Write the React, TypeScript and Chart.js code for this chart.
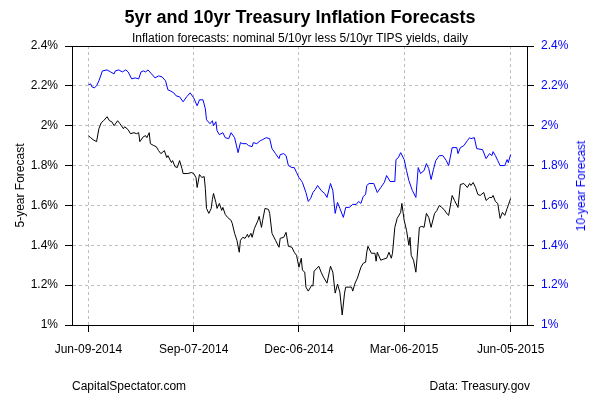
import React, { useEffect, useRef } from "react";
import { Chart, registerables } from "chart.js";

Chart.register(...registerables);

// Day offsets from Jun-09-2014
const fiveYrDays = [0, 2, 4, 7, 9, 11, 13, 16, 18, 20, 22, 25, 27, 30, 31, 34, 36, 39, 41, 43, 44, 47, 49, 50, 52, 53, 56, 58, 60, 62, 65, 67, 68, 71, 72, 74, 76, 78, 80, 81, 85, 88, 90, 92, 93, 95, 97, 99, 100, 101, 103, 105, 106, 107, 109, 110, 112, 114, 115, 117, 119, 122, 123, 125, 127, 129, 130, 132, 134, 136, 137, 139, 140, 142, 145, 146, 148, 149, 151, 154, 155, 157, 160, 163, 164, 167, 169, 171, 174, 176, 178, 180, 182, 183, 185, 186, 188, 191, 192, 193, 197, 199, 201, 204, 207, 209, 211, 213, 215, 217, 219, 220, 225, 226, 228, 230, 233, 235, 237, 238, 239, 242, 245, 246, 247, 250, 252, 255, 257, 259, 260, 262, 264, 267, 268, 270, 272, 274, 275, 276, 278, 280, 281, 283, 285, 287, 289, 291, 293, 296, 298, 300, 302, 304, 307, 308, 311, 313, 316, 318, 321, 324, 326, 327, 329, 331, 333, 335, 338, 340, 343, 345, 346, 348, 350, 352, 354, 356, 358, 359, 361];
const fiveYrValues = [1.95, 1.94, 1.93, 1.92, 1.985, 2.015, 2.025, 2.045, 2.025, 2.02, 2.0, 2.025, 2.01, 1.985, 1.995, 1.98, 1.96, 1.965, 1.96, 1.965, 1.92, 1.945, 1.95, 1.94, 1.965, 1.91, 1.9, 1.895, 1.875, 1.86, 1.875, 1.84, 1.85, 1.815, 1.825, 1.795, 1.79, 1.825, 1.785, 1.76, 1.76, 1.765, 1.76, 1.74, 1.69, 1.755, 1.74, 1.745, 1.685, 1.585, 1.56, 1.585, 1.63, 1.66, 1.615, 1.585, 1.61, 1.575, 1.59, 1.555, 1.54, 1.525, 1.51, 1.46, 1.425, 1.365, 1.425, 1.44, 1.435, 1.455, 1.44, 1.46, 1.44, 1.485, 1.525, 1.545, 1.49, 1.525, 1.585, 1.58, 1.56, 1.46, 1.425, 1.39, 1.435, 1.44, 1.465, 1.395, 1.39, 1.365, 1.35, 1.29, 1.335, 1.275, 1.265, 1.19, 1.17, 1.2, 1.195, 1.27, 1.295, 1.265, 1.24, 1.21, 1.295, 1.265, 1.16, 1.205, 1.165, 1.05, 1.16, 1.19, 1.19, 1.17, 1.21, 1.235, 1.29, 1.31, 1.315, 1.365, 1.395, 1.36, 1.36, 1.32, 1.365, 1.325, 1.33, 1.335, 1.365, 1.335, 1.36, 1.49, 1.535, 1.565, 1.61, 1.525, 1.475, 1.4, 1.44, 1.35, 1.325, 1.265, 1.335, 1.49, 1.495, 1.49, 1.56, 1.54, 1.49, 1.56, 1.575, 1.6, 1.59, 1.58, 1.555, 1.55, 1.65, 1.625, 1.59, 1.705, 1.71, 1.69, 1.71, 1.7, 1.715, 1.69, 1.655, 1.65, 1.665, 1.625, 1.64, 1.64, 1.65, 1.62, 1.61, 1.535, 1.565, 1.55, 1.585, 1.6, 1.635];

const tenYrDays = [0, 2, 3, 5, 7, 9, 12, 16, 19, 22, 23, 26, 29, 32, 34, 37, 40, 43, 45, 47, 49, 51, 54, 57, 60, 63, 66, 68, 70, 73, 75, 78, 81, 84, 87, 90, 93, 95, 98, 100, 101, 104, 106, 107, 109, 110, 112, 115, 117, 120, 122, 125, 128, 130, 132, 135, 137, 140, 141, 144, 147, 149, 152, 155, 157, 160, 163, 164, 167, 169, 171, 174, 176, 178, 180, 182, 183, 186, 188, 190, 192, 194, 196, 199, 202, 204, 207, 209, 211, 213, 215, 218, 220, 223, 226, 229, 231, 233, 235, 237, 238, 240, 244, 247, 250, 253, 255, 258, 262, 263, 265, 267, 270, 272, 274, 277, 280, 282, 284, 287, 289, 291, 293, 295, 297, 300, 303, 306, 308, 311, 315, 316, 318, 321, 324, 326, 327, 330, 332, 337, 340, 343, 345, 346, 348, 350, 352, 356, 358, 359, 361];
const tenYrValues = [2.205, 2.21, 2.195, 2.19, 2.2, 2.225, 2.275, 2.28, 2.27, 2.26, 2.275, 2.28, 2.27, 2.28, 2.27, 2.235, 2.24, 2.235, 2.27, 2.275, 2.27, 2.28, 2.26, 2.24, 2.25, 2.245, 2.225, 2.18, 2.175, 2.165, 2.15, 2.145, 2.12, 2.145, 2.165, 2.14, 2.1, 2.13, 2.13, 2.085, 2.03, 2.01, 2.025, 2.0, 2.02, 1.975, 1.955, 1.965, 1.94, 1.935, 1.965, 1.94, 1.865, 1.915, 1.91, 1.91, 1.9, 1.895, 1.915, 1.91, 1.925, 1.93, 1.94, 1.935, 1.885, 1.86, 1.835, 1.855, 1.86, 1.85, 1.8, 1.79, 1.79, 1.765, 1.74, 1.725, 1.715, 1.665, 1.62, 1.635, 1.665, 1.68, 1.7, 1.675, 1.66, 1.64, 1.71, 1.675, 1.56, 1.615, 1.585, 1.54, 1.59, 1.59, 1.605, 1.605, 1.62, 1.61, 1.645, 1.655, 1.7, 1.71, 1.71, 1.665, 1.69, 1.715, 1.75, 1.72, 1.72, 1.83, 1.84, 1.865, 1.83, 1.775, 1.725, 1.675, 1.64, 1.79, 1.76, 1.775, 1.81, 1.785, 1.73, 1.78, 1.825, 1.85, 1.85, 1.825, 1.8, 1.89, 1.89, 1.86, 1.89, 1.9, 1.925, 1.94, 1.935, 1.94, 1.885, 1.88, 1.835, 1.86, 1.85, 1.87, 1.85, 1.825, 1.8, 1.8, 1.83, 1.815, 1.855];

const xTickDays = [0, 90, 180, 270, 361];
const xTickLabels = ["Jun-09-2014", "Sep-07-2014", "Dec-06-2014", "Mar-06-2015", "Jun-05-2015"];
const yTickValues = [1, 1.2, 1.4, 1.6, 1.8, 2, 2.2, 2.4];

const titleText = "5yr and 10yr Treasury Inflation Forecasts";
const subtitleText = "Inflation forecasts: nominal 5/10yr less 5/10yr TIPS yields, daily";
const leftAxisTitle = "5-year Forecast";
const rightAxisTitle = "10-year Forecast";
const footerLeft = "CapitalSpectator.com";
const footerRight = "Data: Treasury.gov";

const FONT = "'Liberation Sans', Arial, Helvetica, sans-serif";
const BLUE = "#0000ff";
const GRID = "#bebebe";

const fmtPct = (v: number) => `${Number(v).toFixed(1).replace(/\.0$/, "")}%`;

export default function App() {
  const ref = useRef<HTMLCanvasElement>(null);

  useEffect(() => {
    if (!ref.current) return;
    Chart.defaults.font.family = FONT;
    const boxPlugin = {
      id: "box",
      afterDraw(chart: any) {
        const { ctx, chartArea: a } = chart;
        ctx.save();
        ctx.strokeStyle = "#000";
        ctx.lineWidth = 1;
        ctx.strokeRect(Math.round(a.left) + 0.5, Math.round(a.top) + 0.5, Math.round(a.right - a.left), Math.round(a.bottom - a.top));
        ctx.restore();
      },
    };
    const yCommon = {
      type: "linear" as const,
      min: 1,
      max: 2.4,
      afterBuildTicks: (s: any) => {
        s.ticks = yTickValues.map((v) => ({ value: v }));
      },
    };
    const chart = new Chart(ref.current, {
      type: "line",
      data: {
        datasets: [
          {
            label: leftAxisTitle,
            data: fiveYrDays.map((d, i) => ({ x: d, y: fiveYrValues[i] })),
            borderColor: "#000",
            borderWidth: 1,
            pointRadius: 0,
            tension: 0,
            yAxisID: "y",
          },
          {
            label: rightAxisTitle,
            data: tenYrDays.map((d, i) => ({ x: d, y: tenYrValues[i] })),
            borderColor: BLUE,
            borderWidth: 1,
            pointRadius: 0,
            tension: 0,
            yAxisID: "y2",
          },
        ],
      },
      options: {
        responsive: false,
        animation: false,
        devicePixelRatio: 1,
        layout: { padding: { top: 46, left: 0, right: 0, bottom: 0 } },
        plugins: { legend: { display: false }, tooltip: { enabled: false }, title: { display: false } },
        scales: {
          x: {
            type: "linear",
            min: -14,
            max: 375,
            afterBuildTicks: (s: any) => {
              s.ticks = xTickDays.map((v) => ({ value: v }));
            },
            afterFit: (s: any) => {
              s.height = 75;
            },
            ticks: {
              autoSkip: false,
              maxRotation: 0,
              minRotation: 0,
              color: "#000",
              font: { size: 12, family: FONT },
              padding: 10,
              callback: (_v: any, i: number) => xTickLabels[i],
            },
            grid: { color: GRID, lineWidth: 1, tickColor: "#000", tickLength: 7, tickBorderDash: [] },
            border: { display: true, color: "#000", width: 1, dash: [3, 3] },
          },
          y: {
            ...yCommon,
            position: "left",
            afterFit: (s: any) => {
              s.width = 72;
            },
            ticks: { color: "#000", font: { size: 12, family: FONT }, padding: 7, callback: (v: any) => fmtPct(v) },
            grid: { color: GRID, lineWidth: 1, tickColor: "#000", tickLength: 7, tickBorderDash: [] },
            border: { display: true, color: "#000", width: 1, dash: [3, 3] },
            title: { display: true, text: leftAxisTitle, color: "#000", font: { size: 12, family: FONT }, padding: { top: 13, bottom: 0 } },
          },
          y2: {
            ...yCommon,
            position: "right",
            afterFit: (s: any) => {
              s.width = 73;
            },
            ticks: { color: BLUE, font: { size: 12, family: FONT }, padding: 7, callback: (v: any) => fmtPct(v) },
            grid: { drawOnChartArea: false, color: GRID, tickColor: "#000", tickLength: 7, tickBorderDash: [] },
            border: { display: true, color: "#000", width: 1 },
          },
        },
      },
      plugins: [boxPlugin],
    } as any);
    return () => chart.destroy();
  }, []);

  const base: React.CSSProperties = { position: "absolute", fontFamily: FONT, lineHeight: 1, whiteSpace: "nowrap", margin: 0 };

  return (
    <div style={{ position: "fixed", left: 0, top: 0, width: 600, height: 400, background: "#fff", overflow: "hidden" }}>
      <canvas ref={ref} width={600} height={400} style={{ position: "absolute", left: 0, top: 0, width: 600, height: 400 }} />
      <div style={{ ...base, left: 0, top: 8, width: 600, textAlign: "center", fontSize: 18, fontWeight: "bold", color: "#000" }}>{titleText}</div>
      <div style={{ ...base, left: 0, top: 32, width: 600, textAlign: "center", fontSize: 12, color: "#000" }}>{subtitleText}</div>
      <div
        style={{ ...base, left: 581, top: 185.5, fontSize: 12, color: BLUE, transform: "translate(-50%, -50%) rotate(-90deg)" }}
      >
        {rightAxisTitle}
      </div>
      <div style={{ ...base, left: 72, top: 380, fontSize: 12, color: "#000" }}>{footerLeft}</div>
      <div style={{ ...base, right: 70, top: 380, fontSize: 12, color: "#000", textAlign: "right" }}>{footerRight}</div>
    </div>
  );
}
